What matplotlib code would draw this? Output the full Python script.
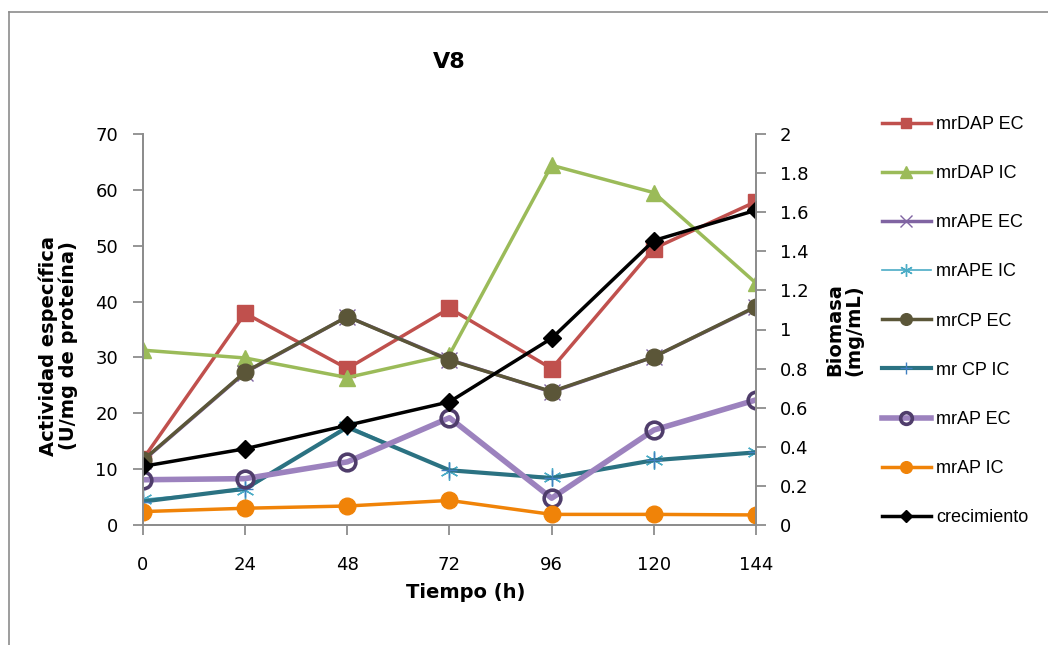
import matplotlib
matplotlib.use('Agg')
import matplotlib.pyplot as plt
from matplotlib.lines import Line2D

# tiempos de muestreo (h)
tiempo = [0, 24, 48, 72, 96, 120, 144]

# actividad específica (U/mg de proteína)
mrDAP_EC = [11.8, 37.9, 28.0, 38.8, 28.0, 49.5, 57.9]
mrDAP_IC = [31.3, 29.9, 26.4, 30.5, 64.4, 59.5, 43.3]
mrAPE_EC = [11.5, 27.3, 37.3, 29.6, 23.8, 30.1, 39.0]
mrAPE_IC = [4.6, 6.2, 17.8, 9.7, 8.6, 11.6, 13.1]
mrCP_EC = [11.6, 27.4, 37.3, 29.5, 23.9, 30.1, 39.1]
mrCP_IC = [4.2, 6.5, 17.5, 9.8, 8.4, 11.6, 13.0]
mrAP_EC = [8.1, 8.3, 11.3, 19.2, 4.8, 17.0, 22.4]
mrAP_IC = [2.4, 3.0, 3.4, 4.4, 1.9, 1.9, 1.8]

# biomasa (mg/mL)
crecimiento = [0.30, 0.39, 0.51, 0.63, 0.955, 1.455, 1.61]

gris = '#8c8c8c'
asterisco = (6, 2, 0)

fig = plt.figure(figsize=(10.48, 6.45), dpi=100)
ax = fig.add_axes([143 / 1048, 1 - 525 / 645, 613 / 1048, 391 / 645])
ax2 = ax.twinx()

ax.plot(tiempo, mrDAP_EC, color='#C0504D', lw=2.5, marker='s', ms=11,
        label='mrDAP EC')
ax.plot(tiempo, mrDAP_IC, color='#9BBB59', lw=2.5, marker='^', ms=12,
        label='mrDAP IC')
ax.plot(tiempo, mrAPE_EC, color='#8064A2', lw=2.5, marker='x', ms=12,
        mew=1, label='mrAPE EC')
ax.plot(tiempo, mrAPE_IC, color='#4BACC6', lw=1.2, marker=asterisco, ms=13,
        mew=1, label='mrAPE IC')
ax.plot(tiempo, mrCP_EC, color='#5B5638', lw=2.5, marker='o', ms=12,
        label='mrCP EC')
ax.plot(tiempo, mrCP_IC, color='#2B7282', lw=3.0, marker='+', ms=12,
        mew=1, mec='#3F7FC0', label='mr CP IC')
ax.plot(tiempo, mrAP_EC, color='#9C82BE', lw=4.0, marker='o', ms=12,
        mfc='none', mec='#4F3D6B', mew=2.6, label='mrAP EC')
ax.plot(tiempo, mrAP_IC, color='#F08308', lw=2.5, marker='o', ms=12,
        label='mrAP IC')
ax2.plot(tiempo, crecimiento, color='black', lw=2.5, marker='D', ms=9,
         label='crecimiento')

ax.set_xlim(0, 144)
ax.set_ylim(0, 70)
ax2.set_ylim(0, 2)
ax.set_xticks(tiempo)
ax.set_yticks(range(0, 71, 10))
ax2.set_yticks([0, 0.2, 0.4, 0.6, 0.8, 1, 1.2, 1.4, 1.6, 1.8, 2])
ax2.set_yticklabels(['0', '0.2', '0.4', '0.6', '0.8', '1', '1.2', '1.4',
                     '1.6', '1.8', '2'])

for a in (ax, ax2):
    a.spines['top'].set_visible(False)
    for s in ('left', 'right', 'bottom'):
        a.spines[s].set_color(gris)
        a.spines[s].set_linewidth(1.3)
ax.tick_params(axis='x', direction='out', length=7, width=1.3, color=gris,
               labelsize=13, pad=15)
ax.tick_params(axis='y', direction='out', length=7, width=1.3, color=gris,
               labelsize=13, pad=11)
ax2.tick_params(axis='y', direction='out', length=7, width=1.3, color=gris,
                labelsize=13, pad=10)

fig.text(449 / 1048, 1 - 62 / 645, 'V8', ha='center', va='center',
         fontsize=16, fontweight='bold')
fig.text(466 / 1048, 1 - 592 / 645, 'Tiempo (h)', ha='center', va='center',
         fontsize=14, fontweight='bold')
fig.text(58 / 1048, 1 - 346 / 645, 'Actividad específica\n(U/mg de proteína)',
         ha='center', va='center', rotation=90, fontsize=14,
         fontweight='bold', linespacing=1.0)
fig.text(844 / 1048, 1 - 330 / 645, 'Biomasa\n(mg/mL)', ha='center',
         va='center', rotation=90, fontsize=14, fontweight='bold',
         linespacing=1.0)

# leyenda con las series de ambos ejes
h1, l1 = ax.get_legend_handles_labels()
h2, l2 = ax2.get_legend_handles_labels()
leyenda = fig.legend(h1 + h2, l1 + l2, loc='upper left',
                     bbox_to_anchor=(882 / 1048, 1 - 116 / 645),
                     frameon=False, borderpad=0, borderaxespad=0,
                     handlelength=2.7, handletextpad=0.3, labelspacing=1.78,
                     markerscale=0.7, prop={'family': 'Liberation Sans',
                                            'size': 13})

# marco exterior del gráfico
fig.add_artist(Line2D([9 / 1048, 9 / 1048], [0, 1 - 12 / 645], color=gris,
                      lw=1.2))
fig.add_artist(Line2D([9 / 1048, 1], [1 - 12 / 645, 1 - 12 / 645],
                      color=gris, lw=1.2))

fig.savefig('out.png', dpi=100)
